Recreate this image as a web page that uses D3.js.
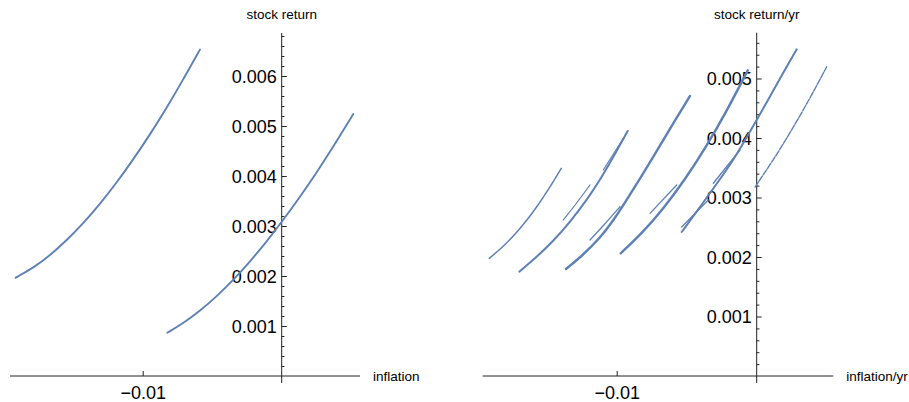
<!DOCTYPE html>
<html><head><meta charset="utf-8">
<script src="https://cdn.jsdelivr.net/npm/d3@7"></script>
<style>
body{margin:0;background:#fff}
svg{display:block}
text{font-family:"Liberation Sans",Arial,sans-serif;fill:#000}
</style>
</head><body>
<svg id="c" width="909" height="402"></svg>
<script>
// ---------- data (inflation, stock return) ----------
const leftCurve1 = [[-0.01914,0.001966],[-0.01787,0.002164],[-0.01667,0.002414],[-0.01547,0.002712],[-0.01427,0.003056],[-0.01307,0.003442],[-0.01187,0.003868],[-0.01068,0.004332],[-0.00947,0.004832],[-0.00827,0.005366],[-0.00708,0.005932],[-0.00588,0.006528]];
const leftCurve2 = [[-0.00823,0.000866],[-0.00708,0.001056],[-0.00588,0.001302],[-0.00468,0.001592],[-0.00348,0.00192],[-0.00228,0.002288],[-0.00108,0.00269],[0,0.00308],[0.00132,0.003584],[0.00252,0.004072],[0.00371,0.004584],[0.00515,0.005238]];

// right panel (inflation/yr, stock return/yr) – main strands
const bandA = [[-0.0191,0.001978],[-0.018243,0.002146],[-0.017386,0.002348],[-0.016529,0.002583],[-0.015671,0.002852],[-0.014814,0.003155],[-0.013957,0.003491]];
const bandB = [[-0.016957,0.001753],[-0.015714,0.002],[-0.014529,0.002269],[-0.013336,0.002588],[-0.012143,0.002958],[-0.011193,0.003294],[-0.010243,0.003681],[-0.009214,0.004118]];
const bandC = [[-0.013621,0.001798],[-0.012407,0.002034],[-0.011193,0.002319],[-0.010264,0.002605],[-0.009336,0.002941],[-0.008264,0.003345],[-0.00705,0.003815],[-0.005907,0.004269],[-0.004764,0.004706]];
const bandD = [[-0.009714,0.002062],[-0.0082,0.002398],[-0.006693,0.002805],[-0.005179,0.003282],[-0.003664,0.00383],[-0.00215,0.004449],[-0.000636,0.005138]];
const bandE = [[-0.005357,0.00242],[-0.00405,0.00284],[-0.002764,0.003261],[-0.001671,0.00363],[-0.000836,0.003958],[0,0.004303],[0.00095,0.004697],[0.001879,0.005092],[0.002857,0.005491]];
const bandF = [[-0.000121,0.003176],[0.001186,0.00363],[0.002379,0.004084],[0.003807,0.004667],[0.005,0.005198]];
// secondary strands
const bandB2 = [[-0.013814,0.002622],[-0.012907,0.002891],[-0.011907,0.00321]];
const bandB3 = [[-0.010957,0.003462],[-0.009529,0.003995]];
const bandC2 = [[-0.011907,0.002286],[-0.010836,0.002555],[-0.009764,0.002845]];
const bandD2 = [[-0.007621,0.002734],[-0.005714,0.00321]];
const bandE2 = [[-0.0031,0.003239],[-0.001193,0.003798]];
const bandE3 = [[-0.005357,0.002504],[-0.003457,0.002958]];

const leftYTicks = [0.001,0.002,0.003,0.004,0.005,0.006];
const rightYTicks = [0.001,0.002,0.003,0.004,0.005];
const xTicks = [-0.01];
const leftLabels = {x:"inflation", y:"stock return"};
const rightLabels = {x:"inflation/yr", y:"stock return/yr"};

// ---------- drawing ----------
const svg = d3.select("#c");
const blue = "#5e81b5";
const axisCol = "#222";

function panel(o){
  const x = d3.scaleLinear().domain([-0.01,0]).range(o.xr);
  const y = d3.scaleLinear().domain([0,0.001]).range([376,o.y1]);
  const g = svg.append("g");
  const x0 = x(0), y0 = y(0);

  g.append("line").attr("x1",o.axL).attr("x2",o.axR).attr("y1",y0).attr("y2",y0)
    .attr("stroke",axisCol).attr("stroke-width",1);
  g.append("line").attr("x1",x0).attr("x2",x0).attr("y1",o.axTop).attr("y2",383)
    .attr("stroke",axisCol).attr("stroke-width",1);

  const minor = d3.range(1,Math.floor(y.invert(o.axTop)/0.0002)+1).map(i=>+(i*0.0002).toFixed(4))
    .filter(v=>Math.round(v*10000)%10!==0);
  g.append("g").attr("transform",`translate(${x0},0)`).style("color",axisCol)
    .call(d3.axisLeft(y).tickValues(minor).tickSize(-2.7).tickFormat(""))
    .call(s=>s.select(".domain").remove());
  g.append("g").attr("transform",`translate(${x0},0)`).style("color",axisCol)
    .call(d3.axisLeft(y).tickValues(o.yTicks).tickSize(-5).tickPadding(5).tickFormat(d3.format(".3f")))
    .call(s=>s.select(".domain").remove())
    .call(s=>s.selectAll("text").attr("font-size",18).attr("dy","0.36em")
      .style("font-family",'"Liberation Sans",Arial,sans-serif').attr("fill","#000"));
  g.append("g").attr("transform",`translate(0,${y0})`).style("color",axisCol)
    .call(d3.axisBottom(x).tickValues(xTicks).tickSize(-5).tickPadding(10).tickFormat(d3.format(".2f")))
    .call(s=>s.select(".domain").remove())
    .call(s=>s.selectAll("text").attr("font-size",18)
      .style("font-family",'"Liberation Sans",Arial,sans-serif').attr("fill","#000"));

  g.append("text").attr("x",o.axR+13).attr("y",381).attr("font-size",13.5).text(o.labels.x);
  g.append("text").attr("x",x0).attr("y",19.3).attr("text-anchor","middle").attr("font-size",13.5).text(o.labels.y);

  const line = d3.line().x(d=>x(d[0])).y(d=>y(d[1])).curve(d3.curveBasis);
  o.series.forEach(s=>{
    g.append("path").attr("d",line(s.data)).attr("fill","none").attr("stroke",blue)
      .attr("stroke-width",s.w).attr("stroke-linecap","round")
      .attr("stroke-dasharray",s.dash||null).attr("opacity",s.op||1);
  });
}

panel({xr:[142.7,281.7], y1:326, axL:10, axR:360, axTop:33, yTicks:leftYTicks, labels:leftLabels,
  series:[{data:leftCurve1,w:1.9},{data:leftCurve2,w:1.9}]});

panel({xr:[616.7,756.7], y1:316.5, axL:482.7, axR:833.3, axTop:32.7, yTicks:rightYTicks, labels:rightLabels,
  series:[
    {data:bandA,w:1.5},{data:bandB,w:2.0},{data:bandC,w:2.4},{data:bandD,w:2.4},
    {data:bandE,w:2.0},{data:bandF,w:1.4,dash:"6,1.5"},
    {data:bandB2,w:1.2},{data:bandB3,w:1.2},{data:bandC2,w:1.3},
    {data:bandD2,w:1.3},{data:bandE2,w:1.3},{data:bandE3,w:1.3}
  ]});
</script>
</body></html>
